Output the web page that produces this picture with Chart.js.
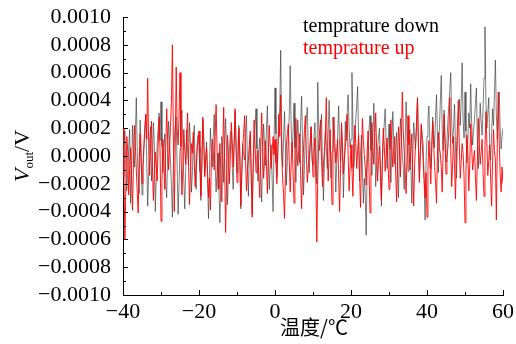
<!DOCTYPE html>
<html>
<head>
<meta charset="utf-8">
<script src="https://cdn.jsdelivr.net/npm/chart.js@4"></script>
<style>
  html, body { margin: 0; padding: 0; background: #fff; }
  canvas { display: block; }
</style>
</head>
<body>
<canvas id="chart" width="516" height="344"></canvas>
<script>
// temperature grid, degC
const tStart = -40;
const tStep = 0.25;

// Vout readings, in units of 1e-4 V, one per 0.25 degC from -40 to 60
const downValues = [
  // -40 .. -30.25
  -1.0, 0.6, 1.8, -0.7, -2.5, -1.1, 0.6, 1.9, -3.4, -0.9,
  2.2, 0.4, -0.8, 1.5, 4.2, 0.3, -1.5, -2.7, 2.6, 0.9,
  -2.8, -1.0, 0.4, 1.7, 3.0, -0.5, -3.6, -1.3, 1.2, 2.1,
  -1.8, -0.2, 2.4, 0.8, -4.0, -1.6, 0.9, 2.0, 3.1, 1.1,
  // -30 .. -20.25
  3.9, 0.7, -1.2, 0.5, 1.6, -1.9, -3.0, 0.2, 2.5, 1.0,
  -0.4, -2.1, -4.4, -0.8, 1.0, 2.3, 2.8, -0.9, -4.2, -2.0,
  0.5, 1.8, 3.3, 0.6, -1.7, -3.8, -1.1, 1.9, 0.3, -0.6,
  2.4, 0.9, -2.6, -1.3, 1.1, 2.2, -0.9, -2.4, 0.8, 1.5,
  // -20 .. -10.25
  0.6, -1.1, -3.2, -0.4, 2.6, 1.2, -1.4, -0.3, 1.0, -2.0,
  -4.5, -1.2, 2.0, 0.5, -0.8, 1.4, 3.0, -0.6, -2.6, -1.0,
  0.2, -2.3, -4.8, -1.5, 1.4, 0.2, -1.9, 0.8, 2.7, 0.4,
  -3.5, -1.1, 0.4, 1.6, 1.8, -0.7, -2.4, 0.9, 3.2, 1.0,
  // -10 .. -0.25
  -1.2, 0.8, 2.2, -0.5, -3.8, -1.4, 0.9, 0.1, -0.3, 1.6,
  2.9, -0.6, -2.9, 0.2, 1.5, -1.8, -4.2, -1.0, 0.7, 2.1,
  3.4, 0.5, -1.8, 0.4, 1.3, -1.5, -3.3, 0.1, 2.3, 0.8,
  -0.7, 1.9, 3.6, -0.2, -2.4, -0.6, 0.8, -1.7, -4.0, 0.9,
  // 0 .. 9.75
  4.9, 1.6, -1.5, 0.4, 2.0, 3.4, 7.6, 1.8, -0.8, 1.2,
  3.2, 0.5, -2.1, -0.4, 1.4, 2.9, 6.5, 2.2, 0.3, 1.7,
  3.8, 0.6, -1.9, 0.8, 2.6, 1.1, -0.5, 2.4, 4.3, 0.9,
  -2.8, -0.7, 1.6, 2.7, 3.5, 0.4, -1.2, 0.5, 2.1, -0.3,
  // 10 .. 19.75
  -0.6, 1.3, 2.4, 0.2, -2.0, 5.3, 2.1, 0.4, 1.5, 3.0,
  -0.8, -3.2, -0.5, 1.8, 0.6, -0.9, 1.7, 4.0, 1.2, -1.6,
  0.3, 2.8, 1.0, 0.2, -2.6, -0.4, 1.6, 3.6, 0.8, -0.4,
  1.9, 0.5, -3.0, -0.6, 2.5, 1.1, 3.2, 4.4, 2.0, 0.6,
  // 20 .. 29.75
  1.2, 6.0, 2.4, -0.8, 0.9, 2.6, 3.7, 5.0, 1.3, -1.8,
  0.2, 1.5, -0.9, -3.4, -1.6, -2.8, -5.7, -1.0, 0.8, 1.9,
  2.9, 0.4, -1.4, 1.0, 3.8, 1.5, -2.2, -0.6, 0.6, 1.4,
  2.0, -0.8, -3.6, -0.5, 1.1, 2.3, 3.4, 0.9, -0.9, 0.7,
  // 30 .. 39.75
  2.3, 0.5, -1.9, 0.9, 3.2, 1.0, -0.6, 0.4, 1.7, -1.2,
  -3.0, 0.6, 2.7, 1.2, 0.1, -0.8, -2.4, 0.9, 3.9, 1.4,
  -1.1, 0.5, 1.9, -0.7, -3.4, -0.2, 2.4, 1.3, 0.5, 2.6,
  4.1, 0.8, -1.6, 0.3, 2.2, 1.5, 0.8, -1.9, -4.6, -0.4,
  // 40 .. 49.75
  1.4, 2.6, 3.6, 1.0, -0.9, 0.8, 2.8, 1.6, 0.6, 2.9,
  4.4, 1.5, -1.2, 1.8, 3.9, 5.8, 1.9, 0.4, 3.3, 1.2,
  -0.4, 1.1, 2.5, 3.7, 4.8, 6.0, 2.3, 0.9, 2.1, 3.7,
  0.6, -1.6, 0.8, 2.9, 4.1, 2.2, 3.9, 6.7, 2.6, 1.3,
  // 50 .. 59.75
  4.6, 1.8, -0.5, 1.2, 3.1, 2.0, 5.2, 2.4, 0.8, 1.9,
  2.6, 3.8, 4.9, 1.1, -0.9, 1.3, 3.8, 2.5, 1.5, 3.4,
  5.6, 9.3, 4.0, 2.0, 3.1, 4.2, 0.9, -0.3, 1.6, 3.4,
  2.2, 4.5, 6.9, 3.0, 1.2, 2.8, 4.6, 2.1, 0.5, 1.4,
  // 60
  2.0
];

const upValues = [
  // -40 .. -30.25
  2.0, -1.5, -6.0, -2.3, 1.4, 0.3, -2.8, -0.9, 0.6, -1.4,
  -3.9, -0.6, 2.2, 0.8, -1.0, -2.6, -4.1, -0.5, 1.6, -0.4,
  -2.0, -0.7, 0.8, 2.1, 3.0, 1.2, 5.6, 0.9, -1.4, 0.6,
  2.5, -0.8, -3.2, -1.1, 0.3, -0.9, -1.8, 0.7, 2.8, 0.4,
  // -30 .. -20.25
  -4.7, -1.9, 1.2, -0.3, -2.4, 0.6, 3.4, 1.1, -1.0, 0.5,
  2.2, 3.9, 8.0, 1.5, -4.0, 0.8, 6.4, 2.0, 0.8, 2.9,
  6.0, 0.7, -2.8, -1.0, 1.9, 0.4, -0.6, 1.3, 3.1, -0.8,
  -3.5, -1.2, 0.9, 0.2, 1.7, -0.5, -2.2, -0.9, 0.4, 1.1,
  // -20 .. -10.25
  1.8, 0.2, -2.9, -0.8, 2.8, 1.1, -1.5, -0.2, 0.6, -1.2,
  -3.0, -1.6, -3.9, -0.4, 1.2, 0.3, -1.0, 1.4, 3.7, 0.5,
  -2.4, -0.9, 0.9, -1.1, -3.3, 0.4, 3.5, -0.6, -5.5, -1.8,
  1.5, 0.2, -2.0, 0.1, 2.4, 1.0, -0.8, 0.9, 3.4, 0.6,
  // -10 .. -0.25
  -1.9, -0.5, 2.0, 0.3, -3.6, -1.2, 0.7, 1.6, 2.9, -0.4,
  -2.5, -1.0, -0.3, 0.8, 1.8, -1.3, -4.4, -0.8, 2.6, 0.9,
  -1.2, -0.1, 0.4, -1.5, -3.0, 0.5, 3.1, 0.7, -1.6, -0.3,
  1.1, -0.6, -2.7, 0.2, 2.2, 0.6, -0.9, 0.3, 1.4, 0.1,
  // 0 .. 9.75
  1.2, -0.5, -2.0, 0.6, 3.0, 1.4, 4.4, 0.2, -1.6, -2.8,
  -4.5, -1.3, 0.8, 1.6, 2.3, -0.4, -2.6, -0.6, 1.0, -1.1,
  -3.4, -0.2, 2.7, 0.5, -0.7, 0.4, 1.6, -1.4, -3.8, -1.0,
  0.5, 1.9, 2.9, 0.2, -1.9, -0.8, -0.2, 1.0, 2.1, 0.3,
  // 10 .. 19.75
  -1.5, 0.1, 1.3, -1.8, -6.2, -1.5, 0.9, 1.8, 2.6, -0.3,
  -2.2, -0.7, 0.4, 1.6, 4.2, 0.6, -1.8, 0.2, 1.9, -1.0,
  -3.5, 0.3, 2.8, 1.0, -0.5, 0.4, 1.2, -1.6, -4.0, -0.9,
  2.4, 0.7, -1.3, -0.2, 0.6, 1.7, 3.0, 0.1, -2.5, -0.8,
  // 20 .. 29.75
  0.8, -0.9, -2.9, 0.2, 2.2, 0.9, -0.9, 0.4, 1.5, -1.4,
  -3.7, -0.5, 2.7, 1.2, 0.1, -0.8, -2.1, 0.3, 1.8, -1.2,
  -4.1, -0.9, 2.4, 0.6, -0.6, 1.4, 3.1, 0.5, -1.8, -0.3,
  0.7, -1.4, -3.2, -0.4, 2.0, 0.8, -1.1, 0.2, 1.3, -0.6,
  // 30 .. 39.75
  -2.4, 0.3, 2.6, 0.6, -0.8, 0.5, 1.4, -1.2, -3.3, -0.4,
  2.1, 0.7, -1.5, 1.2, 4.6, 1.8, 0.3, -1.0, -2.7, 0.1,
  2.9, 0.8, -1.0, 0.3, 1.6, -1.3, -3.6, -0.6, 0.9, 2.2,
  4.2, 0.6, -1.9, 0.4, 2.3, 0.9, -0.4, -1.7, -3.0, -1.2,
  // 40 .. 49.75
  -4.4, -1.0, 1.1, -0.5, -2.0, 0.4, 2.5, 0.8, -0.7, -1.9,
  -3.4, 0.2, 1.7, 0.6, 0.2, -0.8, -2.6, 0.5, 3.0, 0.9,
  -1.3, -0.2, 0.6, 1.8, 4.2, 0.4, -2.2, -0.5, 1.4, -0.9,
  -3.1, 0.3, 2.0, 4.0, 0.8, -1.6, -0.4, 0.9, 0.2, -1.5,
  // 50 .. 59.75
  -4.8, -1.2, 1.5, 0.2, -2.5, -0.6, 2.3, 0.7, -1.0, -0.2,
  0.4, -1.5, -3.2, -0.4, 2.7, 0.8, -0.6, 0.3, 1.2, -1.1,
  -2.9, 0.5, 3.2, 1.0, -1.4, -0.3, 0.8, -1.6, -3.6, -0.5,
  1.9, 0.4, -0.3, -4.6, 0.9, 4.6, 1.1, -1.2, -2.6, -0.8,
  // 60
  -2.0
];

const seriesNames = ['temprature down', 'temprature up'];
const xTicks = [-40, -20, 0, 20, 40, 60];
const yTicks = [-10, -8, -6, -4, -2, 0, 2, 4, 6, 8, 10];

function toPoints(vals) {
  return vals.map((v, i) => ({ x: tStart + i * tStep, y: v }));
}

function fmtMinus(s) {
  return s.replace('-', '\u2212');
}

const serif = '"Liberation Serif", "DejaVu Serif", serif';

// inward major/minor ticks, legend text, axis titles
const decor = {
  id: 'decor',
  afterDraw(chart) {
    const ctx = chart.ctx;
    const xs = chart.scales.x, ys = chart.scales.y;
    const a = chart.chartArea;
    ctx.save();
    ctx.strokeStyle = '#000';
    ctx.lineWidth = 1;
    ctx.beginPath();
    for (let v = -40; v <= 60; v += 10) {
      const px = Math.round(xs.getPixelForValue(v)) + 0.5;
      const len = (v % 20 === 0) ? 5 : 3;
      ctx.moveTo(px, a.bottom);
      ctx.lineTo(px, a.bottom - len);
    }
    for (let v = -10; v <= 10; v += 1) {
      const py = Math.round(ys.getPixelForValue(v)) + 0.5;
      const len = (v % 2 === 0) ? 5 : 3;
      ctx.moveTo(a.left, py);
      ctx.lineTo(a.left + len, py);
    }
    ctx.stroke();

    // legend, text only
    ctx.font = '20px ' + serif;
    ctx.textBaseline = 'middle';
    ctx.textAlign = 'left';
    ctx.fillStyle = '#000';
    ctx.fillText(seriesNames[0], a.left + 180, a.top + 10);
    ctx.fillStyle = '#ff0000';
    ctx.fillText(seriesNames[1], a.left + 180, a.top + 32);

    // x title
    ctx.fillStyle = '#000';
    ctx.textAlign = 'center';
    ctx.font = '20px "Noto Sans CJK SC", sans-serif';
    ctx.fillText('温度/℃', (a.left + a.right) / 2 + 1, 327);

    // y title: V_out/V rotated
    ctx.translate(22, (a.top + a.bottom) / 2);
    ctx.rotate(-Math.PI / 2);
    ctx.textAlign = 'left';
    ctx.textBaseline = 'alphabetic';
    const f1 = 'italic 22px ' + serif, f2 = '13px ' + serif, f3 = '22px ' + serif;
    ctx.font = f1; const w1 = ctx.measureText('V').width;
    ctx.font = f2; const w2 = ctx.measureText('out').width;
    ctx.font = f3; const w3 = ctx.measureText('/V').width;
    let x0 = -(w1 + w2 + w3) / 2;
    ctx.font = f1; ctx.fillText('V', x0, 7); x0 += w1;
    ctx.font = f2; ctx.fillText('out', x0, 11); x0 += w2;
    ctx.font = f3; ctx.fillText('/V', x0, 7);
    ctx.restore();
  }
};

new Chart(document.getElementById('chart'), {
  type: 'line',
  data: {
    datasets: [{
      label: seriesNames[0],
      data: toPoints(downValues),
      borderColor: '#2a2a2a',
      borderWidth: 0.6,
      pointRadius: 0,
      tension: 0,
      order: 2
    }, {
      label: seriesNames[1],
      data: toPoints(upValues),
      borderColor: '#ff0000',
      borderWidth: 0.9,
      pointRadius: 0,
      tension: 0,
      order: 1
    }]
  },
  options: {
    responsive: false,
    animation: false,
    devicePixelRatio: 1,
    layout: { padding: { top: 17, right: 13, left: 0, bottom: 0 } },
    plugins: {
      legend: { display: false },
      tooltip: { enabled: false }
    },
    scales: {
      x: {
        type: 'linear',
        min: -40,
        max: 60,
        afterFit: s => { s.height = 49; s.paddingLeft = 0; s.paddingRight = 0; },
        afterBuildTicks: s => { s.ticks = xTicks.map(v => ({ value: v })); },
        grid: { display: true, color: 'rgba(0,0,0,0)', drawTicks: false },
        border: { display: true, color: '#000', width: 1 },
        ticks: {
          color: '#000',
          padding: 4,
          autoSkip: false,
          maxRotation: 0,
          font: { family: serif, size: 22 },
          callback: v => fmtMinus(String(v))
        }
      },
      y: {
        min: -10,
        max: 10,
        afterFit: s => { s.width = 123; s.paddingTop = 0; s.paddingBottom = 0; },
        afterBuildTicks: s => { s.ticks = yTicks.map(v => ({ value: v })); },
        grid: { display: true, color: 'rgba(0,0,0,0)', drawTicks: false },
        border: { display: true, color: '#000', width: 1 },
        ticks: {
          color: '#000',
          padding: 12,
          autoSkip: false,
          font: { family: serif, size: 22 },
          callback: v => fmtMinus((v / 10000).toFixed(4))
        }
      }
    }
  },
  plugins: [decor]
});
</script>
</body>
</html>
